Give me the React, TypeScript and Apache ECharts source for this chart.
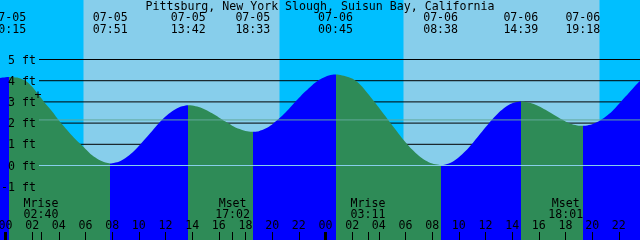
import React, { useEffect, useRef } from 'react';
import * as echarts from 'echarts';

// ---------- data ----------
const stationName = 'Pittsburg, New York Slough, Suisun Bay, California';
const dayLabels = ['07-05', '07-06'];

// tide extremes
const tideDays = [0, 0, 0, 0, 1, 1, 1, 1];
const tideTimes = ['00:15', '07:51', '13:42', '18:33', '00:45', '08:38', '14:39', '19:18'];
const tideFeet = [4.17, 0.1, 2.84, 1.59, 4.29, 0.02, 3.02, 1.87];

// sun (daylight background)
const sunDays = [0, 1];
const sunriseTimes = ['05:51', '05:51'];
const sunsetTimes = ['20:33', '20:33'];

// moon events
const moonDays = [0, 0, 1, 1];
const moonKinds = ['Mrise', 'Mset', 'Mrise', 'Mset'];
const moonTimes = ['02:40', '17:02', '03:11', '18:01'];

// axis ticks
const hourTicks = [0, 2, 4, 6, 8, 10, 12, 14, 16, 18, 20, 22, 24, 26, 28, 30, 32, 34, 36, 38, 40, 42, 44, 46];
const midnightTicks = [0, 24];
const ftLevels = [-1, 0, 1, 2, 3, 4, 5];
const meanSeaLevelFt = 2.15;
const datumFt = 0;

// tide height readings, every half hour starting at -0.5 h (07-04 23:30)
const curveStartHour = -0.5;
const curveStepHours = 0.5;
const curveFeet = [
  4.12,
  4.16, 4.16, 4.13, 4.0, 3.72, 3.32, 2.91, 2.55, 2.13, 1.76, 1.4, 1.08,
  0.78, 0.48, 0.27, 0.14, 0.11, 0.18, 0.35, 0.6, 0.92, 1.27, 1.63, 1.99,
  2.31, 2.56, 2.74, 2.83, 2.83, 2.76, 2.63, 2.46, 2.27, 2.07, 1.88, 1.73,
  1.63, 1.59, 1.62, 1.74, 1.94, 2.2, 2.5, 2.84, 3.18, 3.5, 3.79, 4.03,
  4.19, 4.28, 4.28, 4.21, 4.1, 3.88, 3.53, 3.14, 2.74, 2.32, 1.9, 1.49,
  1.1, 0.75, 0.46, 0.24, 0.09, 0.03, 0.05, 0.17, 0.39, 0.68, 1.03, 1.41,
  1.8, 2.17, 2.5, 2.76, 2.94, 3.01, 3.0, 2.93, 2.8, 2.63, 2.44, 2.25,
  2.08, 1.95, 1.88, 1.88, 1.95, 2.09, 2.3, 2.56, 2.9, 3.25, 3.6, 3.94,
  4.22,
];

// ---------- helpers ----------
const FONT = 'DejaVu Sans Mono';
const FS = 11.6;
const X_MIN = -0.4125;
const X_MAX = 47.5875;
const Y_MIN = -3.514;
const Y_MAX = 7.807;
const RISE_COLOR = '#0000FF';
const FALL_COLOR = '#2E8B57';
const NIGHT_COLOR = '#00BFFF';
const DAY_COLOR = '#87CEEB';
const MSL_COLOR = '#62A99B';
const DATUM_COLOR = '#87CEEB';

const toHours = (day: number, t: string) => {
  const [h, m] = t.split(':').map(Number);
  return day * 24 + h + m / 60;
};
const pad2 = (n: number) => String(((Math.round(n) % 24) + 24) % 24).padStart(2, '0');

const tideHours = tideTimes.map((t, i) => toHours(tideDays[i], t));
const moonHours = moonTimes.map((t, i) => toHours(moonDays[i], t));
const sunSpans = sunDays.map((d, i) => [toHours(d, sunriseTimes[i]), toHours(d, sunsetTimes[i])]);

const curvePoints: [number, number][] = curveFeet.map((f, i) => [curveStartHour + i * curveStepHours, f]);
tideHours.forEach((h, i) => curvePoints.push([h, tideFeet[i]]));
curvePoints.sort((a, b) => a[0] - b[0]);

const isHigh = (i: number) => tideFeet[i] > tideFeet[i === 0 ? 1 : i - 1];
const pieces: any[] = [];
for (let i = 0; i <= tideHours.length; i++) {
  const rising = i < tideHours.length ? isHigh(i) : !isHigh(tideHours.length - 1);
  const p: any = { color: rising ? RISE_COLOR : FALL_COLOR };
  if (i > 0) p.gte = tideHours[i - 1];
  if (i < tideHours.length) p.lt = tideHours[i];
  pieces.push(p);
}

const findIdx = (arr: number[], v: number) => arr.findIndex((x) => Math.abs(x - v) < 1e-6);

const textBase = { color: '#000', fontFamily: FONT, fontSize: FS };

const levelSeries = (name: string, v: number, color: string, z: number) => ({
  type: 'line',
  name,
  xAxisIndex: 4,
  yAxisIndex: 1,
  data: [
    [0, v],
    [1, v],
  ],
  z,
  silent: true,
  symbol: 'none',
  showSymbol: false,
  lineStyle: { color, width: 1, type: 'solid' },
});

export default function App() {
  const ref = useRef<HTMLDivElement>(null);
  useEffect(() => {
    if (!ref.current) return;
    const chart = echarts.init(ref.current, undefined, { renderer: 'svg' });
    const baseX = {
      type: 'value',
      min: X_MIN,
      max: X_MAX,
      gridIndex: 0,
      axisLine: { show: false, onZero: false },
      splitLine: { show: false },
      z: 10,
    };

    const series: any[] = [
      {
        type: 'line',
        name: 'daylight',
        xAxisIndex: 0,
        yAxisIndex: 0,
        data: [],
        z: 1,
        silent: true,
        markArea: {
          z: 1,
          silent: true,
          itemStyle: { color: DAY_COLOR, opacity: 1, borderWidth: 0 },
          data: sunSpans.map(([a, b]) => [{ xAxis: a }, { xAxis: b }]),
        },
      },
      ...ftLevels.map((v) => levelSeries(`${v} ft`, v, '#000', 2)),
    ];
    const tideIndex = series.length;
    series.push({
      type: 'line',
      name: 'tide',
      xAxisIndex: 0,
      yAxisIndex: 0,
      data: curvePoints,
      z: 3,
      smooth: 0.3,
      showSymbol: false,
      symbol: 'none',
      silent: true,
      lineStyle: { width: 0 },
      areaStyle: { opacity: 1, origin: 'start' },
    });
    series.push(levelSeries('msl', meanSeaLevelFt, MSL_COLOR, 5));
    series.push(levelSeries('datum', datumFt, DATUM_COLOR, 5));

    const option: any = {
      animation: false,
      title: {
        text: stationName,
        left: 'center',
        top: 0,
        padding: 0,
        textStyle: { ...textBase, fontWeight: 'normal' },
      },
      grid: [
        { left: 0, right: 0, top: 0, bottom: 0, show: true, backgroundColor: NIGHT_COLOR, borderWidth: 0, containLabel: false, outerBoundsMode: 'none' },
        { left: 39, right: 0, top: 0, bottom: 0, containLabel: false, outerBoundsMode: 'none' },
      ],
      xAxis: [
        {
          ...baseX,
          position: 'bottom',
          axisTick: { show: true, inside: true, length: 8, customValues: hourTicks, lineStyle: { color: '#000', width: 1 } },
          axisLabel: { show: true, inside: true, margin: 9, customValues: hourTicks, formatter: (v: number) => pad2(v), ...textBase },
        },
        {
          ...baseX,
          position: 'bottom',
          axisTick: { show: true, inside: true, length: 8, customValues: moonHours, lineStyle: { color: '#000', width: 1 } },
          axisLabel: {
            show: true,
            inside: true,
            margin: 21,
            lineHeight: 11,
            customValues: moonHours,
            formatter: (v: number) => {
              const i = findIdx(moonHours, v);
              return i < 0 ? '' : `${moonKinds[i]}\n${moonTimes[i]}`;
            },
            ...textBase,
          },
        },
        {
          ...baseX,
          position: 'bottom',
          axisTick: { show: true, inside: true, length: 8, customValues: midnightTicks, lineStyle: { color: '#000', width: 3 } },
          axisLabel: { show: false },
        },
        {
          ...baseX,
          position: 'top',
          axisTick: { show: false },
          axisLabel: {
            show: true,
            inside: true,
            margin: 11,
            lineHeight: 12,
            customValues: tideHours,
            formatter: (v: number) => {
              const i = findIdx(tideHours, v);
              return i < 0 ? '' : `${dayLabels[tideDays[i]]}\n${tideTimes[i]}`;
            },
            ...textBase,
          },
        },
        { type: 'value', gridIndex: 1, min: 0, max: 1, show: false },
      ],
      yAxis: [
        { type: 'value', gridIndex: 0, min: Y_MIN, max: Y_MAX, show: false },
        {
          type: 'value',
          gridIndex: 1,
          min: Y_MIN,
          max: Y_MAX,
          position: 'left',
          z: 10,
          axisLine: { show: false, onZero: false },
          axisTick: { show: false },
          splitLine: { show: false },
          axisLabel: { show: true, margin: 3, customValues: ftLevels, formatter: (v: number) => `${v} ft`, ...textBase },
        },
      ],
      visualMap: {
        type: 'piecewise',
        show: false,
        dimension: 0,
        seriesIndex: tideIndex,
        pieces,
      },
      series,
      graphic: [
        {
          type: 'text',
          x: 38,
          y: 95,
          z: 100,
          style: { text: '+', fill: '#000', font: `${FS}px "${FONT}"`, align: 'center', verticalAlign: 'middle' },
        },
      ],
    };
    chart.setOption(option);
    return () => chart.dispose();
  }, []);
  return <div ref={ref} style={{ position: 'fixed', left: 0, top: 0, width: 640, height: 240 }} />;
}
